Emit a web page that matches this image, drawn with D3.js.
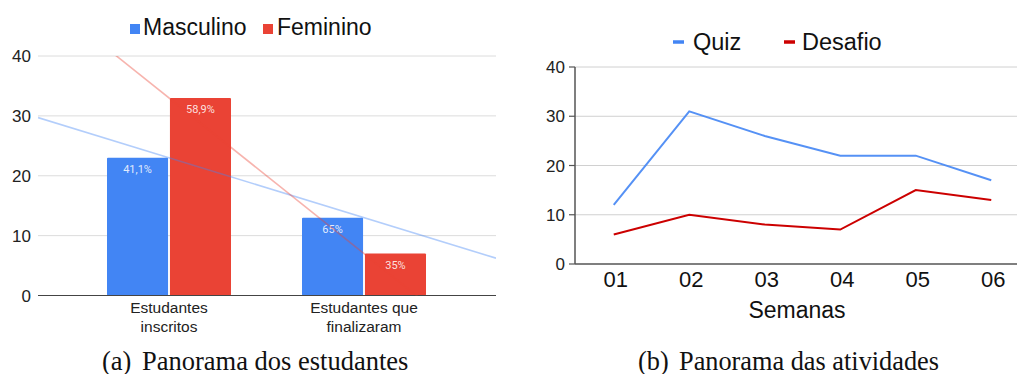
<!DOCTYPE html>
<html><head><meta charset="utf-8">
<script src="https://cdn.jsdelivr.net/npm/d3@7"></script>
<style>html,body{margin:0;padding:0;background:#fff;}svg{display:block;}</style>
</head><body>
<svg id="c" width="1017" height="374"></svg>
<script>
// ---- Data: chart (a)
const categories = ["Estudantes inscritos", "Estudantes que finalizaram"];
const catLines = [["Estudantes", "inscritos"], ["Estudantes que", "finalizaram"]];
const seriesA = ["Masculino", "Feminino"];
const masculino = [23, 13];
const feminino = [33, 7];
const labelsMasc = ["41,1%", "65%"];
const labelsFem = ["58,9%", "35%"];
const ticksA = [0, 10, 20, 30, 40];
// ---- Data: chart (b)
const weeks = ["01", "02", "03", "04", "05", "06"];
const quiz = [12, 31, 26, 22, 22, 17];
const desafio = [6, 10, 8, 7, 15, 13];
const ticksB = [0, 10, 20, 30, 40];

const svg = d3.select("#c");
const SANS = "'Liberation Sans', Arial, sans-serif";
const SERIF = "'Liberation Serif', 'Times New Roman', serif";
const BLUE = "#4285f4", RED = "#ea4335", DRED = "#cc0000";

// ================= Chart (a)
(function(){
  const L = 38, R = 496, T = 56, B = 295.5;
  const y = d3.scaleLinear().domain([0, 40]).range([B, T]);
  const x = d3.scaleBand().domain(categories).range([71.5, 461.5]);
  const bw = x.bandwidth();
  const xs = d3.scaleBand().domain(seriesA).range([bw/2 - 62, bw/2 + 62]).paddingInner(0.03);
  const g = svg.append("g");
  g.selectAll("line.grid").data(ticksA.filter(d => d > 0)).join("line")
    .attr("x1", L).attr("x2", R).attr("y1", d => y(d)).attr("y2", d => y(d))
    .attr("stroke", "#dcdcdc").attr("stroke-width", 1);
  g.selectAll("text.yt").data(ticksA).join("text")
    .attr("x", 31).attr("y", d => y(d)).attr("dy", "0.36em")
    .attr("text-anchor", "end").attr("font-family", SANS).attr("font-size", 17)
    .attr("fill", "#222").text(d => d);
  const vals = {Masculino: masculino, Feminino: feminino};
  const labs = {Masculino: labelsMasc, Feminino: labelsFem};
  const col = {Masculino: BLUE, Feminino: RED};
  seriesA.forEach(s => {
    g.selectAll(null).data(categories).join("rect")
      .attr("x", c => x(c) + xs(s)).attr("width", xs.bandwidth())
      .attr("y", (c, i) => y(vals[s][i])).attr("height", (c, i) => B - y(vals[s][i]))
      .attr("fill", col[s]).attr("rx", 1);
    g.selectAll(null).data(categories).join("text")
      .attr("x", c => x(c) + xs(s) + xs.bandwidth()/2)
      .attr("y", (c, i) => y(vals[s][i]) + 15)
      .attr("text-anchor", "middle").attr("font-family", "Roboto, sans-serif")
      .attr("font-size", 11).attr("fill", "#fff").attr("fill-opacity", 0.85)
      .text((c, i) => labs[s][i]);
  });
  g.append("line").attr("x1", L).attr("x2", R).attr("y1", B).attr("y2", B)
    .attr("stroke", "#444").attr("stroke-width", 1);
  // trendlines (linear regression through each series, x = category index)
  const idx = d3.scaleLinear().domain([0, 1]).range([x(categories[0]) + bw/2, x(categories[1]) + bw/2]);
  svg.append("clipPath").attr("id", "clipA").append("rect")
    .attr("x", L).attr("y", T).attr("width", R - L).attr("height", B - T);
  seriesA.forEach(s => {
    const v = vals[s];
    const n = v.length, xm = (n - 1) / 2, ym = d3.mean(v);
    let num = 0, den = 0;
    v.forEach((d, i) => { num += (i - xm) * (d - ym); den += (i - xm) ** 2; });
    const slope = num / den, icpt = ym - slope * xm;
    const f = px => y(icpt + slope * idx.invert(px));
    g.append("line").attr("clip-path", "url(#clipA)")
      .attr("x1", L).attr("y1", f(L)).attr("x2", R).attr("y2", f(R))
      .attr("stroke", col[s]).attr("stroke-opacity", 0.4).attr("stroke-width", 1.6);
  });
  categories.forEach((c, i) => {
    const t = g.append("text").attr("text-anchor", "middle").attr("font-family", SANS)
      .attr("font-size", 15.5).attr("fill", "#222");
    catLines[i].forEach((ln, k) => t.append("tspan").attr("x", x(c) + bw/2).attr("y", 313 + k * 19).text(ln));
  });
  const lg = g.append("g");
  lg.append("rect").attr("x", 130).attr("y", 24).attr("width", 10).attr("height", 10).attr("fill", BLUE);
  lg.append("text").attr("x", 143).attr("y", 34.5).attr("font-family", SANS).attr("font-size", 23).attr("fill", "#111").text(seriesA[0]);
  lg.append("rect").attr("x", 263).attr("y", 24).attr("width", 10).attr("height", 10).attr("fill", RED);
  lg.append("text").attr("x", 277).attr("y", 34.5).attr("font-family", SANS).attr("font-size", 23).attr("fill", "#111").text(seriesA[1]);
  const cap = g.append("text").attr("y", 369.5).attr("font-family", SERIF).attr("font-size", 26.5).attr("fill", "#111");
  cap.append("tspan").attr("x", 102).text("(a)");
  cap.append("tspan").attr("x", 142).text("Panorama dos estudantes");
})();

// ================= Chart (b)
(function(){
  const L = 575, R = 1017, T = 67, B = 264;
  const y = d3.scaleLinear().domain([0, 40]).range([B, T]);
  const x = d3.scaleBand().domain(weeks).range([576, 1029]);
  const cx = d => x(d) + x.bandwidth()/2;
  const g = svg.append("g");
  g.selectAll(null).data(ticksB.filter(d => d > 0)).join("line")
    .attr("x1", L).attr("x2", R).attr("y1", d => y(d)).attr("y2", d => y(d))
    .attr("stroke", "#d0d0d0").attr("stroke-width", 1);
  g.append("line").attr("x1", L).attr("x2", L).attr("y1", T).attr("y2", B).attr("stroke", "#555").attr("stroke-width", 1.5);
  g.selectAll(null).data(ticksB).join("line")
    .attr("x1", L - 6).attr("x2", L).attr("y1", d => y(d)).attr("y2", d => y(d)).attr("stroke", "#555").attr("stroke-width", 1.2);
  g.selectAll(null).data(ticksB).join("text")
    .attr("x", 565).attr("y", d => y(d)).attr("dy", "0.36em").attr("text-anchor", "end")
    .attr("font-family", SANS).attr("font-size", 17).attr("fill", "#222").text(d => d);
  g.append("line").attr("x1", L).attr("x2", R).attr("y1", B).attr("y2", B).attr("stroke", "#555").attr("stroke-width", 1.5);
  g.selectAll(null).data(weeks).join("text")
    .attr("x", d => cx(d) + 2).attr("y", 287).attr("text-anchor", "middle")
    .attr("font-family", SANS).attr("font-size", 22).attr("fill", "#111").text(d => d);
  g.append("text").attr("x", 797).attr("y", 318).attr("text-anchor", "middle")
    .attr("font-family", SANS).attr("font-size", 23).attr("fill", "#111").text("Semanas");
  const line = d3.line().x((d, i) => cx(weeks[i])).y(d => y(d));
  g.append("path").attr("d", line(quiz)).attr("fill", "none").attr("stroke", BLUE).attr("stroke-width", 2).attr("stroke-opacity", 0.9);
  g.append("path").attr("d", line(desafio)).attr("fill", "none").attr("stroke", DRED).attr("stroke-width", 2);
  g.append("line").attr("x1", 673).attr("x2", 684).attr("y1", 42).attr("y2", 42).attr("stroke", BLUE).attr("stroke-width", 3.5);
  g.append("text").attr("x", 693).attr("y", 49.5).attr("font-family", SANS).attr("font-size", 23.5).attr("fill", "#111").text("Quiz");
  g.append("line").attr("x1", 784).attr("x2", 795).attr("y1", 42).attr("y2", 42).attr("stroke", DRED).attr("stroke-width", 3.5);
  g.append("text").attr("x", 802).attr("y", 49.5).attr("font-family", SANS).attr("font-size", 23.5).attr("fill", "#111").text("Desafio");
  const cap = g.append("text").attr("y", 369.5).attr("font-family", SERIF).attr("font-size", 26.3).attr("fill", "#111");
  cap.append("tspan").attr("x", 638).text("(b)");
  cap.append("tspan").attr("x", 679).text("Panorama das atividades");
})();
</script>
</body></html>
